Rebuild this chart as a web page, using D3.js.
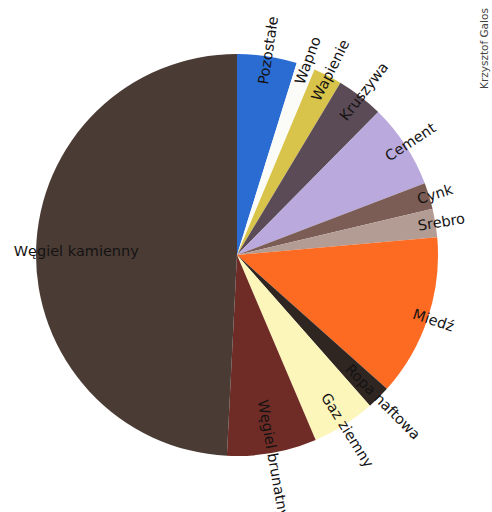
<!DOCTYPE html>
<html>
<head>
<meta charset="utf-8">
<script src="https://cdn.jsdelivr.net/npm/d3@7"></script>
<style>
  html, body { margin: 0; padding: 0; background: #ffffff; }
  svg { display: block; }
</style>
</head>
<body>
<div id="chart"></div>
<script>
// ---- data ----
const categories = ["Pozostałe", "Wapno", "Wapienie", "Kruszywa", "Cement", "Cynk", "Srebro",
                    "Miedź", "Ropa naftowa", "Gaz ziemny", "Węgiel brunatny", "Węgiel kamienny"];
const values = [4.8, 1.5, 2.3, 3.8, 6.8, 2.1, 2.3, 13.0, 1.9, 5.1, 7.2, 49.2];
const colors = ["#2b6cd3", "#fbfbf8", "#d8c44a", "#5b4b56", "#b9a9dd", "#7b5d55", "#b39c94",
                "#fd6a22", "#2f2622", "#fcf6bb", "#6f2b25", "#4a3b34"];
const author = "Krzysztof Galos";

// ---- layout ----
const W = 492, H = 512;
const cx = 237, cy = 255, R = 201;

const svg = d3.select("#chart").append("svg")
  .attr("width", W).attr("height", H);

const data = categories.map((c, i) => ({ name: c, value: values[i], color: colors[i] }));

const pie = d3.pie().sort(null).value(d => d.value);
const arcs = pie(data);
const arc = d3.arc().innerRadius(0).outerRadius(R);

const g = svg.append("g").attr("transform", `translate(${cx},${cy})`);

g.selectAll("path.slice")
  .data(arcs)
  .join("path")
  .attr("class", "slice")
  .attr("d", arc)
  .attr("fill", d => d.data.color);

// radial labels
g.selectAll("text.lbl")
  .data(arcs)
  .join("text")
  .attr("class", "lbl")
  .attr("transform", d => {
    const a = (d.startAngle + d.endAngle) / 2;
    const big = (d.endAngle - d.startAngle) > Math.PI * 0.8;
    const r = big ? R * 0.8 : R * 1.03;
    const x = r * Math.sin(a), y = -r * Math.cos(a);
    let deg = a * 180 / Math.PI - 90;
    if (a > Math.PI) deg -= 180;
    if (big) deg = 0;
    return `translate(${x},${y}) rotate(${deg})`;
  })
  .attr("text-anchor", "middle")
  .attr("dominant-baseline", "central")
  .attr("font-family", "DejaVu Sans, Verdana, sans-serif")
  .attr("font-size", 14.5)
  .attr("fill", "#151313")
  .text(d => d.data.name);

// author credit
svg.append("text")
  .attr("transform", "translate(488,89) rotate(-90)")
  .attr("text-anchor", "start")
  .attr("font-family", "DejaVu Sans, Verdana, sans-serif")
  .attr("font-size", 10.5)
  .attr("fill", "#444")
  .text(author);
</script>
</body>
</html>
